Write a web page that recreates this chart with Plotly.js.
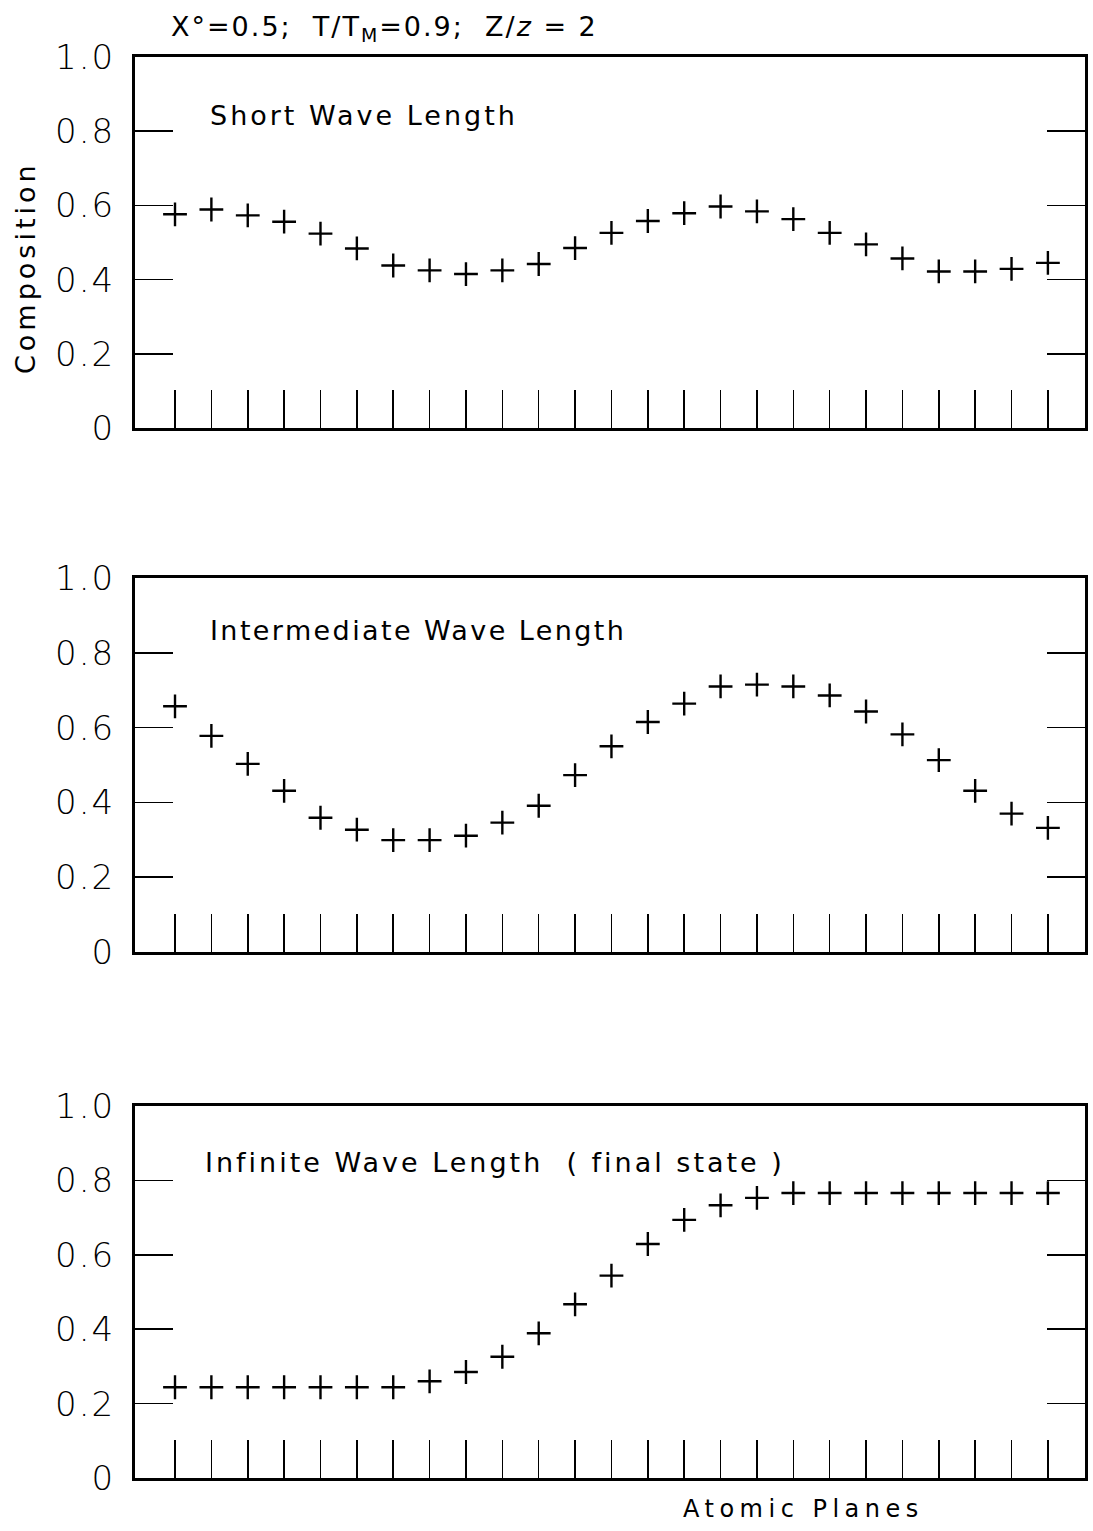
<!DOCTYPE html>
<html>
<head>
<meta charset="utf-8">
<script src="https://cdn.plot.ly/plotly-3.0.1.min.js"></script>
<style>html,body{margin:0;padding:0;background:#fff;}</style>
</head>
<body>
<div id="chart" style="width:1093px;height:1531px;"></div>
<script>
// Atomic planes (index of each plane)
const planes = [1,2,3,4,5,6,7,8,9,10,11,12,13,14,15,16,17,18,19,20,21,22,23,24,25];
// Composition, short wave length
const shortWave = [0.576,0.589,0.573,0.556,0.524,0.484,0.438,0.425,0.415,0.425,0.442,0.485,0.526,0.558,0.579,0.597,0.584,0.563,0.526,0.495,0.457,0.422,0.422,0.429,0.445];
// Composition, intermediate wave length
const intermediateWave = [0.657,0.578,0.503,0.431,0.359,0.327,0.299,0.299,0.311,0.346,0.391,0.473,0.550,0.615,0.664,0.710,0.715,0.710,0.686,0.643,0.582,0.513,0.431,0.370,0.332];
// Composition, infinite wave length (final state)
const infiniteWave = [0.244,0.244,0.244,0.244,0.244,0.244,0.244,0.260,0.285,0.326,0.389,0.467,0.544,0.629,0.694,0.733,0.753,0.766,0.766,0.766,0.766,0.766,0.766,0.766,0.766];
// Y tick values and labels
const yTickVals = [0,0.2,0.4,0.6,0.8,1.0];
const yTickText = ["0","0.2","0.4","0.6","0.8","1.0"];
const panelLabels = ["Short Wave Length","Intermediate Wave Length","Infinite Wave Length  ( final state )"];
const titleText = "X°=0.5;  T/T<sub>M</sub>=0.9;  Z/<i>z</i> = 2";

const FONT = "DejaVu Sans, Arial, sans-serif";
const W = 1093, H = 1531;
const mL = 135, mR = 8, mT = 57, mB = 53;
const plotH = H - mT - mB;
function py(px){ return (H - mB - px) / plotH; }
function pxX(px){ return (px - mL) / (W - mL - mR); }
function spaced(t, ls){ return '<span style="letter-spacing:' + ls + 'px">' + t + '</span>'; }

const marker = {symbol:'cross-thin', size:17, color:'#000', line:{color:'#000', width:2.4}};
const traces = [
  {x:planes, y:shortWave, xaxis:'x', yaxis:'y', mode:'markers', marker:marker, type:'scatter', hoverinfo:'skip'},
  {x:planes, y:intermediateWave, xaxis:'x2', yaxis:'y2', mode:'markers', marker:marker, type:'scatter', hoverinfo:'skip'},
  {x:planes, y:infiniteWave, xaxis:'x3', yaxis:'y3', mode:'markers', marker:marker, type:'scatter', hoverinfo:'skip'}
];

function xAxis(anchor){
  return {anchor:anchor, range:[-0.1,26.02], showgrid:false, zeroline:false,
    showline:true, linecolor:'#000', linewidth:3, mirror:true,
    ticks:'inside', tickvals:planes, ticklen:38, tickwidth:1.5, tickcolor:'#000',
    showticklabels:false, fixedrange:true};
}
function yAxis(anchor, domain){
  return {anchor:anchor, domain:domain, range:[0,1], showgrid:false, zeroline:false,
    showline:true, linecolor:'#000', linewidth:3, mirror:'ticks',
    ticks:'inside', tickvals:yTickVals, ticktext:yTickText.map(t => spaced(t, 2)), ticklen:38, tickwidth:1.5, tickcolor:'#000',
    ticklabelstandoff:10,
    tickfont:{family:FONT, size:34, color:'#000', weight:300}, fixedrange:true};
}

const labelFont = {family:FONT, size:27, color:'#000'};
const layout = {
  width:W, height:H,
  margin:{l:mL, r:mR, t:mT, b:mB},
  paper_bgcolor:'#fff', plot_bgcolor:'#fff',
  showlegend:false,
  title:{text:spaced(titleText, 2), x:171/W, xref:'container', xanchor:'left',
         y:1-27/H, yref:'container', yanchor:'middle', font:{family:FONT, size:27, color:'#000'}},
  xaxis:xAxis('y'), yaxis:yAxis('x',[py(428),1]),
  xaxis2:xAxis('y2'), yaxis2:yAxis('x2',[py(952),py(578)]),
  xaxis3:xAxis('y3'), yaxis3:yAxis('x3',[0,py(1106)]),
  annotations:[
    {text:spaced(panelLabels[0],3), xref:'paper', yref:'paper', x:pxX(208), y:py(115), xanchor:'left', yanchor:'middle', showarrow:false, font:labelFont},
    {text:spaced(panelLabels[1],2.4), xref:'paper', yref:'paper', x:pxX(208), y:py(630), xanchor:'left', yanchor:'middle', showarrow:false, font:labelFont},
    {text:spaced(panelLabels[2],3), xref:'paper', yref:'paper', x:pxX(203), y:py(1162), xanchor:'left', yanchor:'middle', showarrow:false, font:labelFont},
    {text:spaced("Composition",4), xref:'paper', yref:'paper', x:pxX(25), y:py(268), xanchor:'center', yanchor:'middle', textangle:-90, showarrow:false, font:labelFont},
    {text:spaced("Atomic Planes",5.5), xref:'paper', yref:'paper', x:pxX(803), y:py(1509), xanchor:'center', yanchor:'middle', showarrow:false, font:{family:FONT,size:24,color:'#000'}}
  ]
};

Plotly.newPlot('chart', traces, layout, {staticPlot:true, displayModeBar:false});
</script>
</body>
</html>
